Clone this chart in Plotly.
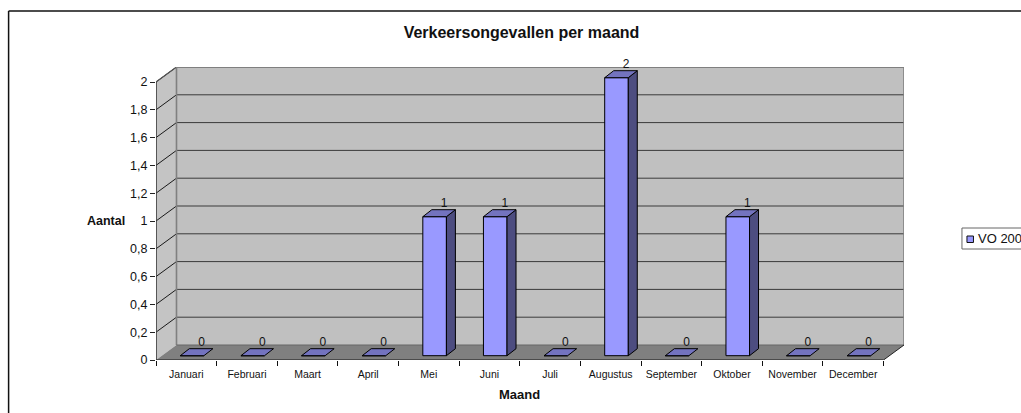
import plotly.graph_objects as go

months = ["Januari", "Februari", "Maart", "April", "Mei", "Juni", "Juli",
          "Augustus", "September", "Oktober", "November", "December"]
values = [0, 0, 0, 0, 1, 1, 0, 2, 0, 1, 0, 0]
y_ticks = [0, 0.2, 0.4, 0.6, 0.8, 1, 1.2, 1.4, 1.6, 1.8, 2]
y_labels = ["0", "0,2", "0,4", "0,6", "0,8", "1", "1,2", "1,4", "1,6", "1,8", "2"]

title = "Verkeersongevallen per maand"
y_title = "Aantal"
x_title = "Maand"
legend_name = "VO 200"

W, H = 1021, 413
L, R, T, B = 155.5, 904.0, 67.0, 360.0   # plot box in pixels
CAT_PX = 60.667
UNIT_PX = 139.0

# oblique projection, in axis units
wall_dx = 20.5 / CAT_PX
wall_dy = 15.0 / UNIT_PX
bar_off_x = 5.8 / CAT_PX
bar_off_y = 4.3 / UNIT_PX
bar_w = 23.6 / CAT_PX
bar_dx = 9.0 / CAT_PX
bar_dy = 7.0 / UNIT_PX

x_max = (R - L) / CAT_PX
y_max = (B - T) / UNIT_PX
n = len(months)
top = max(y_ticks)

fig = go.Figure()


def path(points):
    return "M " + " L ".join(f"{x},{y}" for x, y in points) + " Z"


def wall(points, fill):
    return dict(type="path", xref="x", yref="y", layer="below", path=path(points),
                fillcolor=fill, line=dict(width=0))


def seg(x0, y0, x1, y1, color, width):
    return dict(type="line", xref="x", yref="y", layer="below", x0=x0, y0=y0, x1=x1, y1=y1,
                line=dict(color=color, width=width))


shapes = [
    wall([(wall_dx, wall_dy), (x_max, wall_dy), (x_max, top + wall_dy), (wall_dx, top + wall_dy)], "#C0C0C0"),
    wall([(0, 0), (wall_dx, wall_dy), (wall_dx, top + wall_dy), (0, top)], "#C4C4C4"),
    wall([(0, 0), (n, 0), (x_max, wall_dy), (wall_dx, wall_dy)], "#808080"),
]
for t in y_ticks[1:]:
    shapes.append(seg(0, t, wall_dx, t + wall_dy, "#1a1a1a", 1))
    shapes.append(seg(wall_dx, t + wall_dy, x_max, t + wall_dy, "#3a3a3a", 1))
shapes += [
    seg(0, top, wall_dx, top + wall_dy, "#555555", 1.2),
    seg(wall_dx, wall_dy, wall_dx, top + wall_dy, "#808080", 1.6),
    seg(wall_dx, top + wall_dy, x_max, top + wall_dy, "#808080", 1.6),
    seg(x_max, wall_dy, x_max, top + wall_dy, "#808080", 1.6),
    seg(wall_dx, wall_dy, x_max, wall_dy, "#666666", 1.2),
    seg(n, 0, x_max, wall_dy, "#222222", 1),
]

# bars: front faces are a bar trace; side and top faces are projected from the value
centres = [i + 0.5 + bar_off_x for i in range(n)]
fig.add_trace(go.Bar(
    x=centres, y=values, base=[bar_off_y] * n, width=bar_w,
    marker=dict(color="#9999FF", line=dict(color="#000000", width=1)),
    name=legend_name, showlegend=False, hoverinfo="skip"))

sx, sy, tx, ty = [], [], [], []
for c, v in zip(centres, values):
    l, r = c - bar_w / 2, c + bar_w / 2
    y0, y1 = bar_off_y, v + bar_off_y
    if v > 0:
        sx += [r, r + bar_dx, r + bar_dx, r, r, None]
        sy += [y0, y0 + bar_dy, y1 + bar_dy, y1, y0, None]
    tx += [l, r, r + bar_dx, l + bar_dx, l, None]
    ty += [y1, y1, y1 + bar_dy, y1 + bar_dy, y1, None]
for xs, ys, fill in [(sx, sy, "#4D4D80"), (tx, ty, "#7373BF")]:
    fig.add_trace(go.Scatter(x=xs, y=ys, mode="lines", fill="toself", fillcolor=fill,
                             line=dict(color="#000000", width=1),
                             hoverinfo="skip", showlegend=False, cliponaxis=False))

# front axes
fig.add_trace(go.Scatter(x=[0, 0, None, 0, n], y=[0, top, None, 0, 0], mode="lines",
                         line=dict(color="#3a3a3a", width=1.6),
                         hoverinfo="skip", showlegend=False, cliponaxis=False))

# data labels
fig.add_trace(go.Scatter(
    x=[c + 9.5 / CAT_PX for c in centres],
    y=[v + bar_off_y + bar_dy for v in values],
    mode="text", text=[str(v) for v in values], textposition="top center",
    textfont=dict(family="Liberation Sans, Arial", size=12, color="#111111"),
    hoverinfo="skip", showlegend=False, cliponaxis=False))


def px(x):
    return (x - L) / (R - L)


def py(y):
    return (B - y) / (B - T)


text_font = dict(family="Liberation Sans, Arial", color="#111111")
shapes += [
    dict(type="line", xref="paper", yref="paper", x0=px(8), x1=px(W + 5), y0=py(11), y1=py(11),
         line=dict(color="#111111", width=1.5)),
    dict(type="line", xref="paper", yref="paper", x0=px(8), x1=px(8), y0=py(11), y1=py(H),
         line=dict(color="#111111", width=1.5)),
    dict(type="rect", xref="paper", yref="paper", x0=px(962), x1=px(W + 20), y0=py(228), y1=py(249),
         line=dict(color="#666666", width=1), fillcolor="white"),
    dict(type="rect", xref="paper", yref="paper", x0=px(967), x1=px(973.5), y0=py(236), y1=py(242.5),
         line=dict(color="#111111", width=1), fillcolor="#9999FF"),
]
fig.update_layout(
    width=W, height=H, autosize=False,
    margin=dict(l=L, r=W - R, t=T, b=H - B, pad=0, autoexpand=False),
    paper_bgcolor="white", plot_bgcolor="white", showlegend=False,
    title=dict(text=f"<b>{title}</b>", x=521.5 / W, xref="container",
               xanchor="center", y=1 - 32 / H, yanchor="middle",
               font=dict(family="Liberation Sans, Arial", size=16, color="#111111")),
    xaxis=dict(range=[0, x_max], showgrid=False, zeroline=False, showline=False,
               tickmode="array", tickvals=[i + 0.5 for i in range(n)], ticktext=months,
               ticks="", ticklen=0, tickangle=0, automargin=False, ticklabelstandoff=6,
               tickfont=dict(size=10.5, **text_font),
               minor=dict(tickmode="array", tickvals=list(range(n + 1)),
                          ticks="outside", ticklen=5, tickcolor="#111111", tickwidth=1, showgrid=False)),
    yaxis=dict(range=[0, y_max], showgrid=False, zeroline=False, showline=False,
               tickmode="array", tickvals=y_ticks, ticktext=y_labels,
               ticks="outside", ticklen=5, tickcolor="#222222", tickwidth=1, automargin=False,
               tickfont=dict(size=12.5, **text_font)),
    shapes=shapes,
    annotations=[
        dict(text=f"<b>{y_title}</b>", xref="paper", yref="paper", x=px(105.5), y=py(221),
             showarrow=False, xanchor="center", yanchor="middle", font=dict(size=12.5, **text_font)),
        dict(text=f"<b>{x_title}</b>", xref="paper", yref="paper", x=px(519), y=py(394),
             showarrow=False, xanchor="center", yanchor="middle", font=dict(size=13, **text_font)),
        dict(text=legend_name, xref="paper", yref="paper", x=px(976), y=py(238),
             showarrow=False, xanchor="left", yanchor="middle", font=dict(size=13, **text_font)),
    ],
)

fig.write_html("out.html", config=dict(displayModeBar=False),
               post_script="document.body.style.margin='0';document.body.style.overflow='hidden';")
